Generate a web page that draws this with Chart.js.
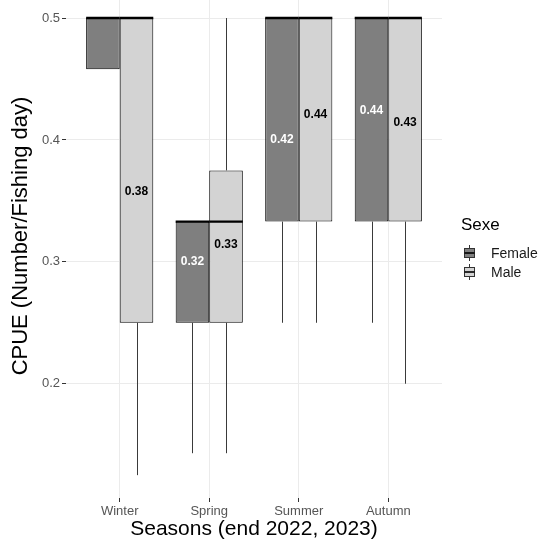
<!DOCTYPE html>
<html>
<head>
<meta charset="utf-8">
<script src="https://cdn.jsdelivr.net/npm/chart.js@4.4.1/dist/chart.umd.min.js"></script>
<style>
  html, body { margin: 0; padding: 0; background: #ffffff; }
  #wrap { width: 554px; height: 542px; }
  canvas { background: #ffffff; }
</style>
</head>
<body>
<div id="wrap"><canvas id="c" width="554" height="542"></canvas></div>
<script>
// ---- data ----
const seasons = ['Winter', 'Spring', 'Summer', 'Autumn'];
const yTicks = [0.2, 0.3, 0.4, 0.5];
const yTitle = 'CPUE (Number/Fishing day)';
const xTitle = 'Seasons (end 2022, 2023)';

const femaleMin    = [0.458, 0.143, 0.25, 0.25];
const femaleQ1     = [0.458, 0.25, 0.333, 0.333];
const femaleMedian = [0.5, 0.333, 0.5, 0.5];
const femaleQ3     = [0.5, 0.333, 0.5, 0.5];
const femaleMax    = [0.5, 0.333, 0.5, 0.5];
const femaleMean   = [null, 0.32, 0.42, 0.444];

const maleMin    = [0.125, 0.143, 0.25, 0.2];
const maleQ1     = [0.25, 0.25, 0.333, 0.333];
const maleMedian = [0.5, 0.333, 0.5, 0.5];
const maleQ3     = [0.5, 0.375, 0.5, 0.5];
const maleMax    = [0.5, 0.5, 0.5, 0.5];
const maleMean   = [0.377, 0.334, 0.44, 0.434];

const groups = [
  { name: 'Female', min: femaleMin, q1: femaleQ1, med: femaleMedian, q3: femaleQ3, max: femaleMax, mean: femaleMean,
    fill: '#7f7f7f', text: '#ffffff' },
  { name: 'Male', min: maleMin, q1: maleQ1, med: maleMedian, q3: maleQ3, max: maleMax, mean: maleMean,
    fill: '#d3d3d3', text: '#000000' }
];

const FONT = "'Liberation Sans', Arial, sans-serif";

function line(ctx, x1, y1, x2, y2) {
  ctx.beginPath(); ctx.moveTo(x1, y1); ctx.lineTo(x2, y2); ctx.stroke();
}

const boxExtras = {
  id: 'boxExtras',
  afterDatasetsDraw(chart) {
    const ctx = chart.ctx;
    const ys = chart.scales.y;
    ctx.save();
    groups.forEach((g, di) => {
      const meta = chart.getDatasetMeta(di);
      meta.data.forEach((bar, i) => {
        const cx = Math.round(bar.x) + 0.5;
        const half = bar.width / 2;
        ctx.strokeStyle = '#3a3a3a';
        ctx.lineWidth = 1;
        if (g.min[i] < g.q1[i]) line(ctx, cx, ys.getPixelForValue(g.q1[i]), cx, ys.getPixelForValue(g.min[i]));
        if (g.max[i] > g.q3[i]) line(ctx, cx, ys.getPixelForValue(g.q3[i]), cx, ys.getPixelForValue(g.max[i]));
        ctx.strokeStyle = '#000000';
        ctx.lineWidth = 2.4;
        const my = ys.getPixelForValue(g.med[i]);
        line(ctx, bar.x - half, my, bar.x + half, my);
      });
    });
    groups.forEach((g, di) => {
      const meta = chart.getDatasetMeta(di);
      meta.data.forEach((bar, i) => {
        const m = g.mean[i];
        if (m === null) return;
        ctx.font = "bold 12px " + FONT;
        ctx.fillStyle = g.text;
        ctx.textAlign = 'center';
        ctx.textBaseline = 'middle';
        ctx.fillText(m.toFixed(2), bar.x, ys.getPixelForValue(m) + 24);
      });
    });
    ctx.restore();
  },
  afterDraw(chart) {
    const ctx = chart.ctx;
    ctx.save();
    // y axis title
    ctx.save();
    ctx.translate(21, 236);
    ctx.rotate(-Math.PI / 2);
    ctx.fillStyle = '#000000';
    ctx.font = "22px " + FONT;
    ctx.textAlign = 'center';
    ctx.textBaseline = 'middle';
    ctx.fillText(yTitle, 0, 0);
    ctx.restore();
    // legend
    ctx.fillStyle = '#000000';
    ctx.font = "17px " + FONT;
    ctx.textAlign = 'left';
    ctx.textBaseline = 'middle';
    ctx.fillText('Sexe', 461, 225);
    groups.forEach((g, k) => {
      const cx = 469.5, cy = 253 + k * 19;
      ctx.strokeStyle = '#333333';
      ctx.lineWidth = 1;
      line(ctx, cx, cy - 8, cx, cy + 8);
      ctx.fillStyle = g.fill;
      ctx.fillRect(cx - 5, cy - 4.5, 10, 9);
      ctx.strokeRect(cx - 5, cy - 4.5, 10, 9);
      ctx.lineWidth = 1.6;
      ctx.strokeStyle = '#000000';
      line(ctx, cx - 5, cy, cx + 5, cy);
      ctx.fillStyle = '#1a1a1a';
      ctx.font = "14px " + FONT;
      ctx.fillText(g.name, 491, cy + 1);
    });
    ctx.restore();
  }
};

const datasets = groups.map(g => ({
  label: g.name,
  data: seasons.map((s, i) => ({ x: i + 1, y: [g.q1[i], g.q3[i]] })),
  backgroundColor: g.fill,
  borderColor: '#000000',
  borderWidth: 1,
  borderSkipped: false,
  categoryPercentage: 0.75,
  barPercentage: 1.0
}));

new Chart(document.getElementById('c'), {
  type: 'bar',
  data: { datasets },
  options: {
    responsive: false,
    animation: false,
    devicePixelRatio: 1,
    layout: { padding: { left: 0, right: 112, top: 0, bottom: 0 } },
    plugins: { legend: { display: false }, tooltip: { enabled: false } },
    scales: {
      x: {
        type: 'linear',
        min: 0.4, max: 4.6,
        offset: false,
        afterBuildTicks: (axis) => { axis.ticks = seasons.map((s, i) => ({ value: i + 1 })); },
        afterFit: (s) => { s.height = 44; s.paddingLeft = 0; s.paddingRight = 0; },
        ticks: {
          autoSkip: false, maxRotation: 0,
          color: '#555555',
          font: { family: FONT, size: 13 },
          padding: 2,
          callback: (v) => seasons[Math.round(v) - 1] || ''
        },
        grid: { offset: false, color: '#ebebeb', lineWidth: 1, tickColor: '#333333', tickLength: 4, drawTicks: true },
        border: { display: false },
        title: { display: true, text: xTitle, color: '#000000',
                 font: { family: FONT, size: 21 }, padding: { top: 0, bottom: 0 } }
      },
      y: {
        min: 0.10625, max: 0.5148,
        afterBuildTicks: (axis) => { axis.ticks = yTicks.map(v => ({ value: v })); },
        afterFit: (s) => { s.width = 66; s.paddingTop = 0; s.paddingBottom = 0; },
        ticks: {
          color: '#555555',
          font: { family: FONT, size: 13 },
          padding: 2,
          callback: (v) => Number(v).toFixed(1)
        },
        grid: { color: '#ebebeb', lineWidth: 1, tickColor: '#333333', tickLength: 4, drawTicks: true },
        border: { display: false },
        title: { display: false }
      }
    }
  },
  plugins: [boxExtras]
});
</script>
</body>
</html>
